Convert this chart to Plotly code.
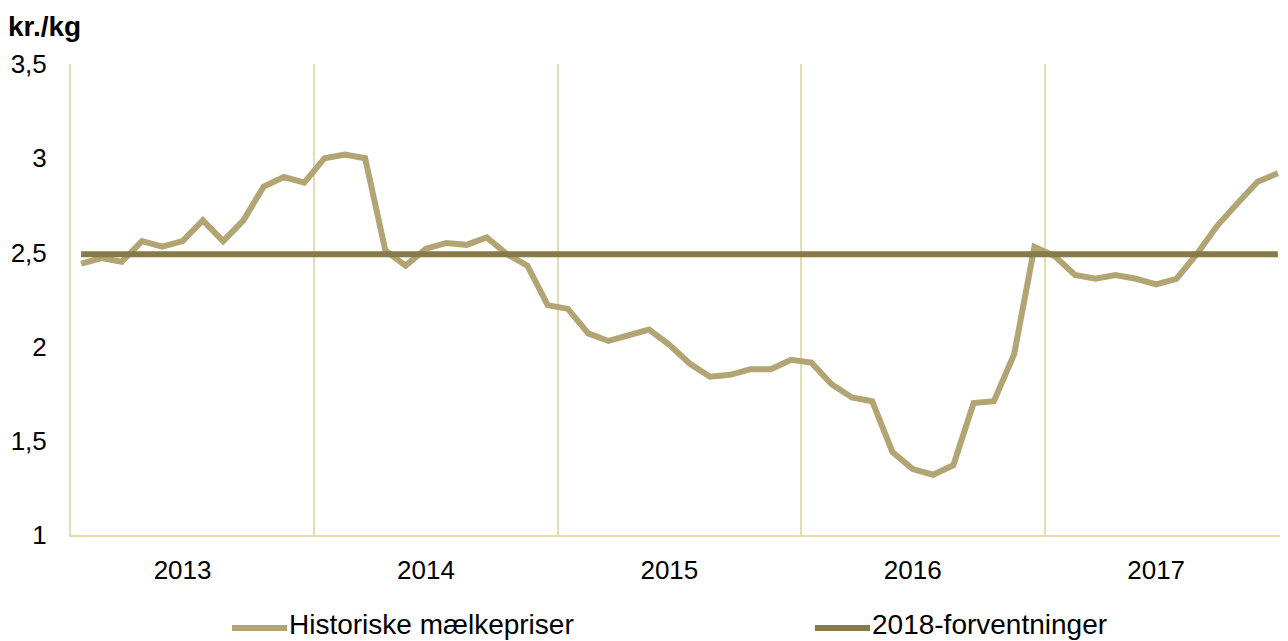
import plotly.graph_objects as go

# månedlige mælkepriser 2013-2017 (kr./kg)
years = ["2013", "2014", "2015", "2016", "2017"]
historiske = [
    2.44, 2.47, 2.45, 2.56, 2.53, 2.56, 2.67, 2.56, 2.67, 2.85, 2.90, 2.87,
    3.00, 3.02, 3.00, 2.51, 2.43, 2.52, 2.55, 2.54, 2.58, 2.49, 2.43, 2.22,
    2.20, 2.07, 2.03, 2.06, 2.09, 2.01, 1.91, 1.84, 1.85, 1.88, 1.88, 1.93,
    1.915, 1.80, 1.73, 1.71, 1.44, 1.35, 1.32, 1.37, 1.70, 1.71, 1.96, 2.53,
    2.48, 2.38, 2.36, 2.38, 2.36, 2.33, 2.36, 2.49, 2.64, 2.76, 2.875, 2.92,
]
forventning_2018 = [2.49] * len(historiske)
month_idx = list(range(len(historiske)))

col_hist = "#B2A573"
col_forv = "#857A48"
col_grid = "#E7DBB2"
font_family = "Liberation Sans, Arial, sans-serif"

# siden har 8px body-margin, så figuren gøres tilsvarende mindre
OFF = 8
W, H = 1288 - OFF, 641 - OFF
L, T, B = 71 - OFF, 64 - OFF, 106

fig = go.Figure()

fig.add_trace(go.Scatter(
    x=month_idx, y=historiske, mode="lines", name="Historiske mælkepriser",
    line=dict(color=col_hist, width=6),
))
fig.add_trace(go.Scatter(
    x=month_idx, y=forventning_2018, mode="lines", name="2018-forventninger",
    line=dict(color=col_forv, width=6),
))

# årstal ved juni i hvert år (som i Excel), gitter mellem årene
year_centers = [12 * i + 5 for i in range(len(years))]
year_bounds = [12 * i - 0.5 for i in range(1, len(years))]

fig.update_layout(
    width=W, height=H,
    margin=dict(l=L, r=0, t=T, b=B),
    paper_bgcolor="white", plot_bgcolor="white",
    separators=", ",
    showlegend=False,
    font=dict(family=font_family, size=26, color="black"),
    xaxis=dict(
        range=[-0.5, 59.5],
        tickvals=year_centers, ticktext=years,
        showgrid=False, zeroline=False,
        showline=True, linecolor=col_grid, linewidth=2,
        ticks="", ticklabelstandoff=11,
        minor=dict(tickvals=year_bounds, showgrid=True, gridcolor=col_grid, gridwidth=2),
    ),
    yaxis=dict(
        range=[1, 3.5], dtick=0.5, tick0=1,
        showgrid=False, zeroline=False,
        showline=True, linecolor=col_grid, linewidth=2,
        ticks="", ticklabelstandoff=17,
    ),
)

# manuel forklaring (legend) under figuren, i sidens pixel-koordinater
plot_w = W - L
plot_h = H - T - B


def px_x(px):
    return (px - OFF - L) / plot_w


def px_y(py):
    return (H - B - (py - OFF)) / plot_h


legend_items = [("Historiske mælkepriser", col_hist, 232), ("2018-forventninger", col_forv, 815)]
for label, color, x0 in legend_items:
    fig.add_shape(type="line", xref="paper", yref="paper",
                  x0=px_x(x0), x1=px_x(x0 + 55), y0=px_y(628), y1=px_y(628),
                  line=dict(color=color, width=6))
    fig.add_annotation(xref="paper", yref="paper", x=px_x(x0 + 55), y=px_y(624),
                       xanchor="left", yanchor="middle", showarrow=False,
                       text=label, font=dict(size=28, color="black"))

fig.add_annotation(xref="paper", yref="paper", x=px_x(6), y=px_y(26),
                   xanchor="left", yanchor="middle", showarrow=False,
                   text="<b>kr./kg</b>", font=dict(size=28, color="black"))

fig.write_html("out.html")
